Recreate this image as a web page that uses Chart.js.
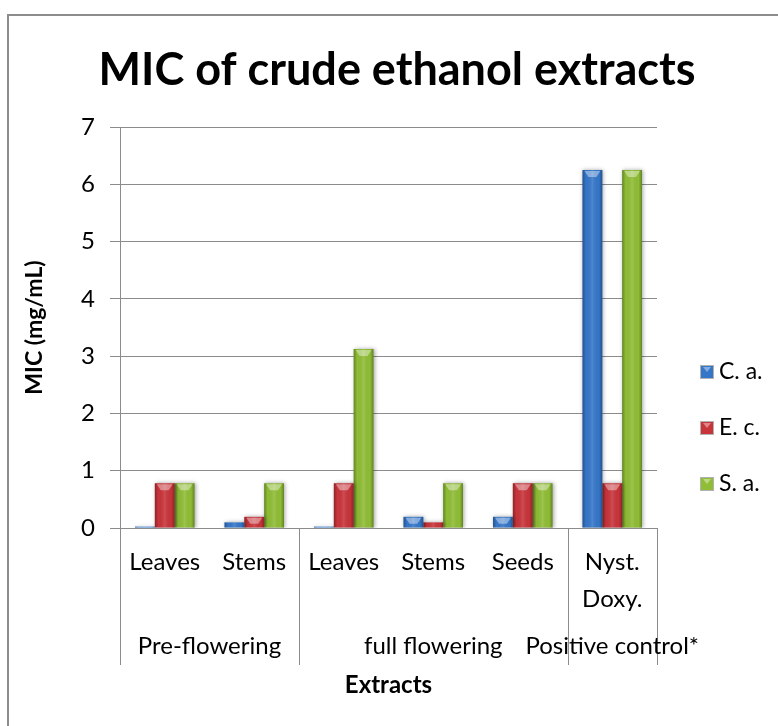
<!DOCTYPE html>
<html>
<head>
<meta charset="utf-8">
<script src="https://cdn.jsdelivr.net/npm/chart.js@4.4.1/dist/chart.umd.min.js"></script>
<style>
  body { margin: 0; background: #fff; }
  #wrap { width: 778px; height: 726px; }
</style>
</head>
<body>
<div id="wrap"><canvas id="myChart" width="778" height="726"></canvas></div>
<script>
// chart data
const categories = [['Leaves'], ['Stems'], ['Leaves'], ['Stems'], ['Seeds'], ['Nyst.', 'Doxy.']];
const groupNames = ['Pre-flowering', 'full flowering', 'Positive control*'];
const groupSizes = [2, 3, 1];
const seriesNames = ['C. a.', 'E. c.', 'S. a.'];
const caValues = [0.024, 0.098, 0.024, 0.195, 0.195, 6.25];
const ecValues = [0.78, 0.195, 0.78, 0.098, 0.78, 0.78];
const saValues = [0.78, 0.78, 3.125, 0.78, 0.78, 6.25];
const yTicks = [0, 1, 2, 3, 4, 5, 6, 7];
const chartTitle = 'MIC of crude ethanol extracts';

const FONT = 'Lato, "Open Sans", sans-serif';
const barColors = ['#3576c9', '#c8343a', '#8fbd35'];

// outer border (left + top only, like the cropped original) and the title
const frame = {
  id: 'frame',
  beforeDraw(chart) {
    const ctx = chart.ctx;
    ctx.save();
    ctx.strokeStyle = '#8c8c8c';
    ctx.lineWidth = 2;
    ctx.beginPath();
    ctx.moveTo(8, 726);
    ctx.lineTo(8, 15);
    ctx.lineTo(778, 15);
    ctx.stroke();
    ctx.fillStyle = '#000';
    ctx.font = 'bold 45px ' + FONT;
    ctx.textAlign = 'center';
    ctx.textBaseline = 'middle';
    ctx.fillText(chartTitle, 397, 70);
    ctx.restore();
  }
};

// bevel look on the bars
const bevel = {
  id: 'bevel',
  beforeDatasetsDraw(chart) {
    const ctx = chart.ctx;
    ctx.save();
    ctx.shadowColor = 'rgba(0,0,0,0.35)';
    ctx.shadowBlur = 4;
    ctx.shadowOffsetX = 1;
  },
  afterDatasetsDraw(chart) {
    const ctx = chart.ctx;
    ctx.restore();
    ctx.save();
    chart.data.datasets.forEach(function (ds, i) {
      chart.getDatasetMeta(i).data.forEach(function (bar) {
        const l = bar.x - bar.width / 2, r = bar.x + bar.width / 2;
        const t = bar.y, h = bar.base - bar.y;
        if (h <= 0) return;
        const g = ctx.createLinearGradient(l, 0, r, 0);
        g.addColorStop(0, 'rgba(0,0,0,0.30)');
        g.addColorStop(0.18, 'rgba(0,0,0,0)');
        g.addColorStop(0.5, 'rgba(255,255,255,0.12)');
        g.addColorStop(0.82, 'rgba(0,0,0,0)');
        g.addColorStop(1, 'rgba(0,0,0,0.30)');
        ctx.fillStyle = g;
        ctx.fillRect(l, t, r - l, h);
        if (h > 6) {
          ctx.fillStyle = 'rgba(255,255,255,0.4)';
          ctx.beginPath();
          ctx.moveTo(l + 2, t + 1);
          ctx.lineTo(r - 2, t + 1);
          ctx.lineTo(bar.x + bar.width * 0.2, t + 7);
          ctx.lineTo(bar.x - bar.width * 0.2, t + 7);
          ctx.closePath();
          ctx.fill();
        }
      });
    });
    ctx.restore();
  }
};

// second level of the category axis
const groups = {
  id: 'groups',
  afterDraw(chart) {
    const ctx = chart.ctx;
    const x = chart.scales.x;
    const bottom = chart.chartArea.bottom;
    const edge = function (i) {
      if (i <= 0) return x.left;
      if (i >= categories.length) return x.right;
      return (x.getPixelForValue(i - 1) + x.getPixelForValue(i)) / 2;
    };
    ctx.save();
    ctx.strokeStyle = '#8c8c8c';
    ctx.lineWidth = 1;
    ctx.fillStyle = '#000';
    ctx.font = '24px ' + FONT;
    ctx.textAlign = 'center';
    ctx.textBaseline = 'middle';
    let start = 0;
    groupSizes.forEach(function (n, gi) {
      const a = edge(start), b = edge(start + n);
      ctx.beginPath();
      ctx.moveTo(Math.round(a) + 0.5, bottom);
      ctx.lineTo(Math.round(a) + 0.5, bottom + 137);
      ctx.moveTo(Math.round(b) + 0.5, bottom);
      ctx.lineTo(Math.round(b) + 0.5, bottom + 137);
      ctx.stroke();
      ctx.fillText(groupNames[gi], (a + b) / 2, bottom + 118);
      start += n;
    });
    ctx.restore();
  }
};

// legend on the right
const sideLegend = {
  id: 'sideLegend',
  afterDraw(chart) {
    const ctx = chart.ctx;
    ctx.save();
    ctx.font = '23px ' + FONT;
    ctx.textBaseline = 'middle';
    ctx.textAlign = 'left';
    seriesNames.forEach(function (name, i) {
      const y = 372 + i * 56;
      ctx.fillStyle = barColors[i];
      ctx.fillRect(701, y - 6, 12, 12);
      ctx.strokeStyle = 'rgba(0,0,0,0.3)';
      ctx.strokeRect(700.5, y - 6.5, 13, 13);
      ctx.fillStyle = 'rgba(255,255,255,0.4)';
      ctx.beginPath();
      ctx.moveTo(703, y - 5);
      ctx.lineTo(711, y - 5);
      ctx.lineTo(707, y);
      ctx.closePath();
      ctx.fill();
      ctx.fillStyle = '#000';
      ctx.fillText(name, 719, y);
    });
    ctx.restore();
  }
};

const ctx = document.getElementById('myChart');
new Chart(ctx, {
  type: 'bar',
  data: {
    labels: categories,
    datasets: [
      { label: seriesNames[0], data: caValues, backgroundColor: barColors[0] },
      { label: seriesNames[1], data: ecValues, backgroundColor: barColors[1] },
      { label: seriesNames[2], data: saValues, backgroundColor: barColors[2] }
    ]
  },
  options: {
    responsive: false,
    animation: false,
    layout: { padding: { left: 10, right: 121, top: 127, bottom: 0 } },
    datasets: { bar: { categoryPercentage: 0.665, barPercentage: 1.0, borderWidth: 0 } },
    plugins: {
      legend: { display: false },
      tooltip: { enabled: false },
      title: { display: false }
    },
    scales: {
      x: {
        grid: { display: true, drawOnChartArea: false, drawTicks: false },
        border: { color: '#8c8c8c', width: 1 },
        ticks: {
          color: '#000',
          font: { family: FONT, size: 24, lineHeight: 1.54 },
          padding: 16,
          maxRotation: 0,
          autoSkip: false
        },
        title: {
          display: true,
          text: 'Extracts',
          color: '#000',
          font: { family: FONT, size: 24, weight: 'bold' },
          padding: { top: 0, bottom: 26 }
        },
        afterFit: function (s) { s.height = 198; }
      },
      y: {
        min: 0,
        max: 7,
        afterBuildTicks: function (s) { s.ticks = yTicks.map(function (v) { return { value: v }; }); },
        grid: { color: '#8c8c8c', tickLength: 10 },
        border: { color: '#8c8c8c', width: 1 },
        ticks: {
          color: '#000',
          font: { family: FONT, size: 24 },
          padding: 15
        },
        title: {
          display: true,
          text: 'MIC (mg/mL)',
          color: '#000',
          font: { family: FONT, size: 23, weight: 'bold' },
          padding: { top: 11, bottom: 0 }
        },
        afterFit: function (s) { s.width = 110; }
      }
    }
  },
  plugins: [frame, bevel, groups, sideLegend]
});
</script>
</body>
</html>
